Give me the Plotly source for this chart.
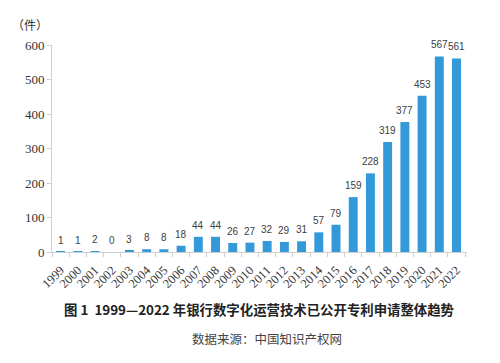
import plotly.graph_objects as go

years = [str(y) for y in range(1999, 2023)]
counts = [1, 1, 2, 0, 3, 8, 8, 18, 44, 44, 26, 27, 32, 29, 31, 57, 79, 159, 228, 319, 377, 453, 567, 561]
y_ticks = [0, 100, 200, 300, 400, 500, 600]

title_text = "图 1  1999—2022 年银行数字化运营技术已公开专利申请整体趋势"
source_text = "数据来源：中国知识产权网"
unit_text = "（件）"

# page offset from default body margin
OFF = 8
W, H = 500, 363
L, T = 52 - OFF, 45 - OFF
R = W - (467 - OFF)
B = H - (252 - OFF)
pw, ph = W - L - R, H - T - B

def px(x):
    return (x - OFF - L) / pw

def py(y):
    return 1 - (y - OFF - T) / ph

fig = go.Figure(go.Bar(
    x=years, y=counts,
    marker=dict(color="#3399d8", line=dict(width=0)),
    cliponaxis=False,
))

# value labels placed via category index on the x axis
label_anns = [
    dict(x=i, y=c, xref="x", yref="y", text=str(c), showarrow=False,
         xanchor="center", yanchor="bottom", yshift=4,
         font=dict(family="Liberation Sans, Arial", size=10, color="#404040"))
    for i, c in enumerate(counts)
]

fig.update_layout(
    width=W, height=H,
    margin=dict(l=L, r=R, t=T, b=B),
    paper_bgcolor="white", plot_bgcolor="white",
    bargap=0.48,
    showlegend=False,
    xaxis=dict(
        type="category", tickangle=-45, showgrid=False, dtick=1,
        showline=True, linecolor="#d0d0d0", linewidth=1,
        ticks="outside", tickson="boundaries", ticklen=4, tickcolor="#d0d0d0",
        ticklabelstandoff=5,
        tickfont=dict(family="Liberation Serif, Times New Roman", size=12.5, color="#333333"),
    ),
    yaxis=dict(
        range=[0, 600], tickvals=y_ticks, showgrid=False, zeroline=False,
        showline=True, linecolor="#d0d0d0", linewidth=1,
        ticks="outside", ticklen=4, tickcolor="#d0d0d0",
        tickfont=dict(family="Liberation Serif, Times New Roman", size=13, color="#333333"),
    ),
    annotations=label_anns + [
        dict(text=unit_text, x=px(30), y=py(24), xref="paper", yref="paper", showarrow=False,
             xanchor="center", yanchor="middle",
             font=dict(family="Noto Sans CJK SC", size=12, color="#333333")),
        dict(text="<b>" + title_text + "</b>", x=px(259), y=py(309), xref="paper", yref="paper",
             showarrow=False, xanchor="center", yanchor="middle",
             font=dict(family="Noto Sans CJK SC", size=13.4, color="#222222")),
        dict(text=source_text, x=px(267), y=py(338), xref="paper", yref="paper",
             showarrow=False, xanchor="center", yanchor="middle",
             font=dict(family="Noto Sans CJK SC", size=12.5, color="#444444")),
    ],
)

fig.write_html("out.html")
